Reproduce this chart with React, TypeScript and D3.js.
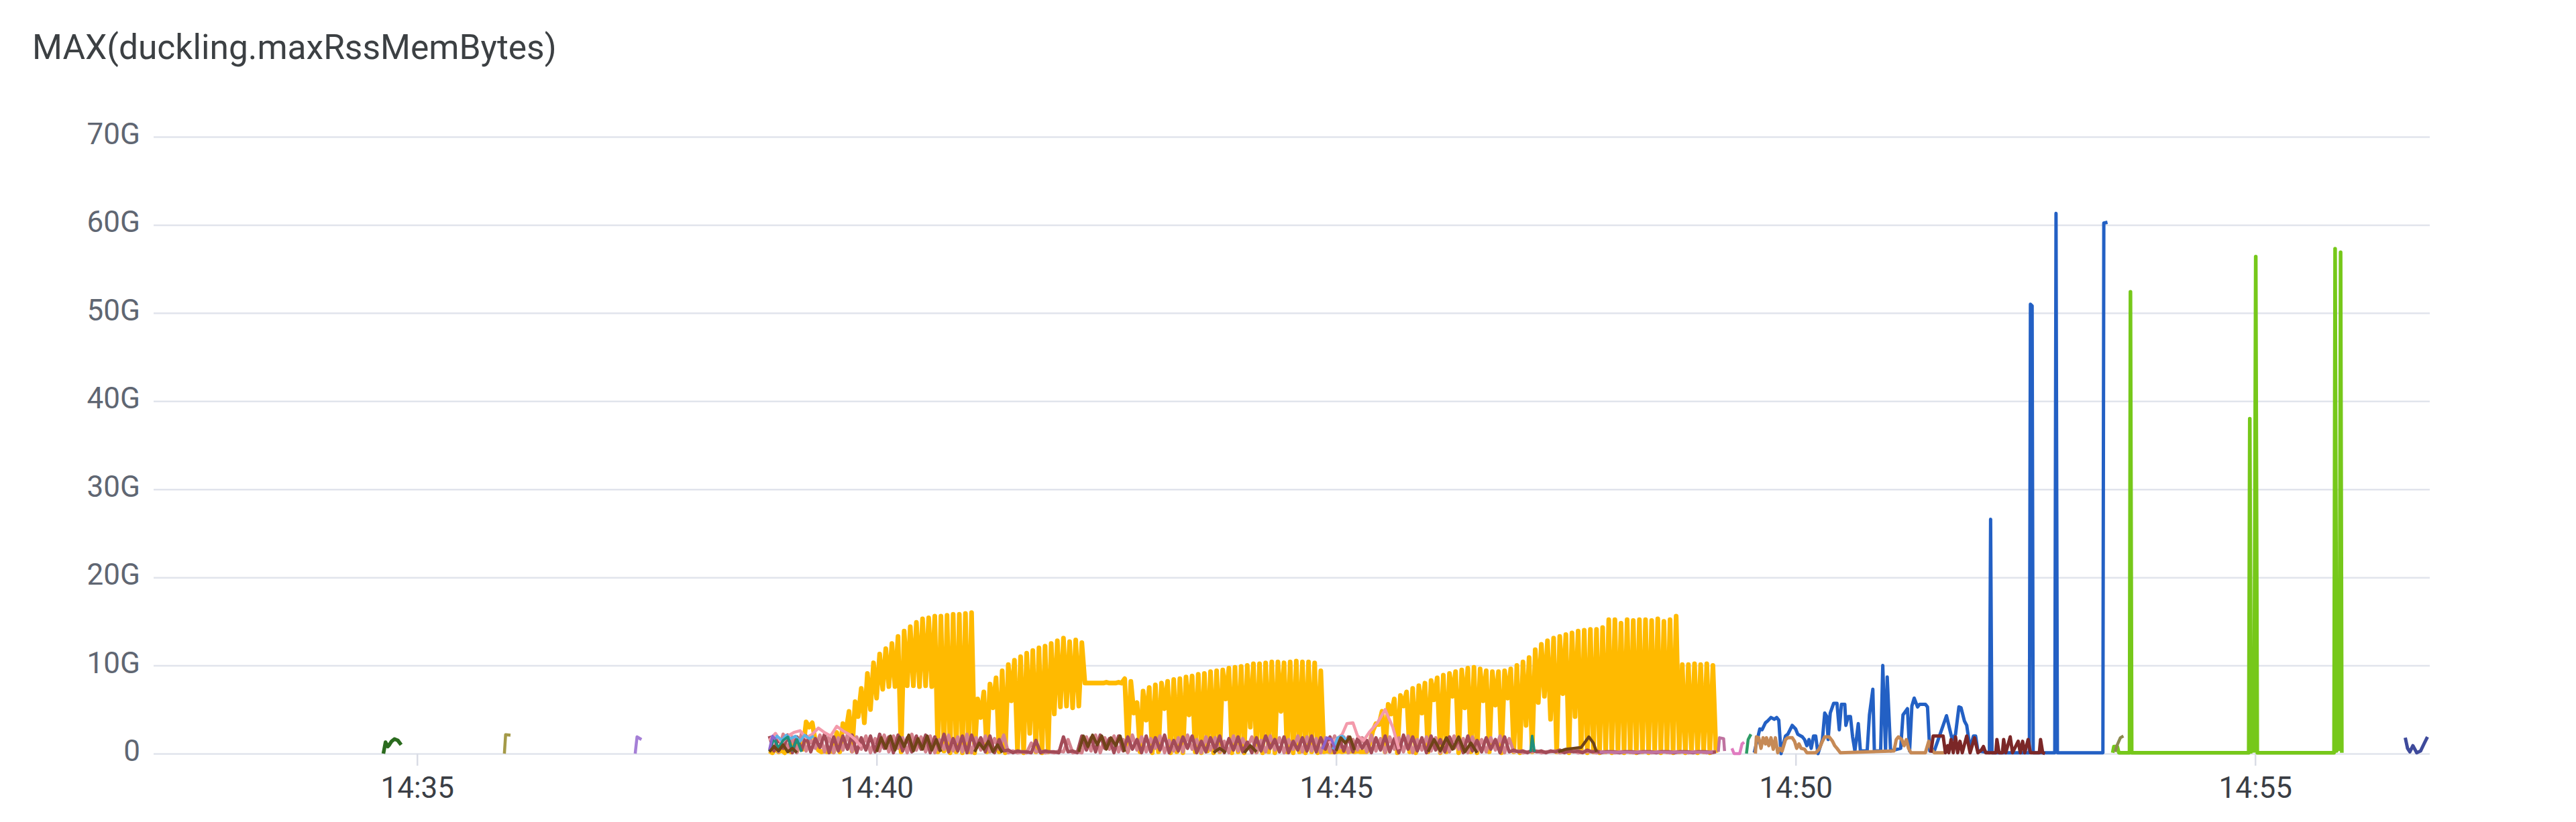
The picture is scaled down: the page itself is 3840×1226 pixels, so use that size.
import React, { useEffect, useRef } from "react";
import * as d3 from "d3";

// time values are seconds after 14:35:00, memory values are in G
const BASE = new Date(2024, 0, 15, 14, 35, 0).getTime();
const timeDomain = [-172, 1314];
const yTicks = [0, 10, 20, 30, 40, 50, 60, 70];

// yellow: a peak every 4 s from yellowStart, a trough 2 s after each peak
const yellowStart = 230;
const yellowPeaks = [
  0.3, 0.6, 0.4, 0.9, 1.2, 1.7, 3.6, 3.5, 0.4, 0.3, 0.3, 2.4,
  3.4, 4.8, 5.9, 7.4, 9.1, 10.3, 11.3, 11.9, 12.5, 13.3, 13.9, 14.4, 14.9, 15.3, 15.4, 15.6, 15.6, 15.7, 15.8, 15.8, 15.9, 16.0,
  6.2, 7.0, 7.9, 8.6, 9.4, 10.1, 10.6, 11.0, 11.4, 11.7, 12.0, 12.2, 12.5, 12.8, 13.1, 12.7, 12.9, 12.6,
  8.0, 8.0, 8.0, 8.1, 8.0, 8.1, 8.5, 8.2,
  5.8, 7.1, 7.5, 7.8, 8.0, 8.2, 8.4, 8.5, 8.7, 8.8, 9.0, 9.1, 9.3, 9.4, 9.5, 9.7, 9.8, 9.9, 10.0, 10.2, 10.2, 10.3, 10.4, 10.4, 10.3, 10.4, 10.5, 10.4, 10.4, 10.3, 9.4,
  0.3, 0.2, 0.3, 0.3, 0.3, 0.3, 0.2,
  1.2, 3.4, 4.8, 5.6, 6.2, 6.6, 7.0, 7.4, 7.7, 8.0, 8.3, 8.6, 8.9, 9.1, 9.3, 9.5, 9.7, 9.8, 9.6, 9.4, 9.3, 9.3, 9.4, 9.6, 10.0,
  10.4, 10.9, 11.8, 12.4, 12.8, 13.1, 13.3, 13.5, 13.7, 13.9, 14.0, 14.1, 14.1, 14.3, 15.2, 15.2, 14.8, 15.2, 15.1, 15.2, 15.2,
  15.1, 15.3, 15.0, 15.2, 15.6,
  10.1, 10.1, 10.2, 10.1, 10.2, 10.0,
];
const yellowTroughs = [
  0.1, 0.2, 0.1, 0.2, 0.3, 0.5, 3.0, 1.4, 0.2, 0.2, 0.2, 0.2,
  2.5, 0.3, 4.2, 3.5, 5.0, 6.3, 7.3, 7.6, 7.6, 0.2, 7.7, 7.7, 7.6, 7.7, 7.6, 0.2, 0.3, 0.1, 0.2, 0.1, 0.2, 0.1,
  4.1, 0.2, 5.2, 0.2, 0.1, 6.0, 0.2, 0.1, 2.3, 0.2, 0.1, 0.2, 4.5, 5.3, 5.4, 5.2, 5.4, 8.0,
  8.0, 8.0, 8.0, 8.0, 8.0, 8.0, 0.3, 4.6,
  0.2, 3.8, 0.1, 0.2, 5.1, 0.1, 0.2, 0.1, 4.4, 0.2, 0.1, 0.3, 0.1, 0.2, 6.2, 0.1, 0.2, 0.1, 3.0, 0.2, 0.1, 0.2, 0.1, 4.8, 0.2, 0.1, 0.2, 0.1, 0.2, 0.1, 0.2,
  0.2, 0.2, 0.2, 0.2, 0.2, 0.2, 0.2,
  2.6, 3.3, 0.2, 4.5, 0.1, 5.4, 0.2, 0.1, 4.6, 0.2, 6.1, 0.1, 0.2, 6.5, 0.1, 5.2, 0.2, 0.1, 6.0, 0.2, 5.5, 0.1, 6.3, 0.2, 0.1,
  3.2, 0.2, 5.8, 6.5, 3.9, 0.2, 6.8, 0.1, 4.2, 0.2, 0.1, 0.2, 0.1, 0.2, 0.1, 0.2, 0.1, 0.2, 0.1, 0.2, 0.1,
  0.2, 0.1, 0.2, 0.1, 0.2,
  0.1, 0.2, 0.1, 0.2, 0.1, 0.1,
];

// rose band: highs every 6 s from roseStart, lows 3 s after each high
const roseStart = 230;
const roseHighs = [
  2.0, 1.8, 2.1, 1.9, 2.0, 1.7, 2.2, 1.9, 2.0, 2.1, 1.8, 2.0, 2.2, 1.9, 2.1, 1.8, 2.0, 2.1, 1.9, 2.2, 1.7, 2.0, 2.1, 1.8, 2.0, 1.6,
  0.4, 0.3, 0.2, 1.5, 0.3, 0.2, 1.9, 0.3,
  2.0, 1.8, 2.1, 1.7, 2.0, 1.9, 1.6, 2.0, 1.8, 2.1, 1.5, 1.9, 2.0, 1.4, 1.8, 2.0, 1.7, 1.9, 1.3, 1.8, 2.0, 1.6, 1.9, 1.4,
  1.8, 2.0, 1.8, 1.9, 1.8, 1.9, 1.7, 1.5, 1.8, 2.0, 1.7, 2.1, 1.9, 1.8, 2.0, 1.6, 1.9, 1.7, 2.0, 1.5, 1.8, 1.6, 1.9,
  0.4, 0.3, 0.4, 0.3, 0.3, 0.4, 0.3, 0.3, 0.4, 0.3, 0.2, 0.2, 0.2, 0.2, 0.2, 0.2, 0.2, 0.2, 0.2, 0.2, 0.2, 0.2, 0.2,
];
const roseLows = [
  0.3, 0.6, 0.1, 0.4, 0.2, 0.7, 0.1, 0.3, 0.5, 0.1, 0.4, 0.2, 0.6, 0.1, 0.3, 0.2, 0.5, 0.1, 0.4, 0.2, 0.3, 0.1, 0.6, 0.2, 0.1, 0.3,
  0.1, 0.2, 0.1, 0.1, 0.2, 0.1, 0.2, 0.1,
  0.4, 0.2, 0.6, 0.1, 0.3, 0.5, 0.1, 0.2, 0.4, 0.1, 0.3, 0.6, 0.1, 0.2, 0.5, 0.1, 0.4, 0.2, 0.1, 0.3, 0.6, 0.2, 0.1, 0.4,
  0.3, 0.2, 0.5, 0.1, 0.3, 0.2, 0.6, 0.1, 0.4, 0.2, 0.1, 0.5, 0.3, 0.1, 0.4, 0.2, 0.6, 0.1, 0.3, 0.2, 0.5, 0.1, 0.2,
  0.2, 0.1, 0.2, 0.1, 0.2, 0.1, 0.2, 0.1, 0.2, 0.1, 0.2, 0.1, 0.2, 0.1, 0.2, 0.1, 0.2, 0.1, 0.2, 0.1, 0.2, 0.1,
];

// blush band: highs every 6 s from blushStart, lows 3 s after each high
const blushStart = 233;
const blushHighs = [
  1.7, 2.2, 1.9, 2.3, 1.6, 2.1, 2.0, 1.8, 2.2, 1.9, 2.0, 1.7, 2.1, 2.0, 1.8, 2.2, 1.9, 2.0, 1.6, 2.1, 1.9, 2.2, 1.8, 2.0, 1.7, 2.1,
  0.3, 0.2, 1.2, 0.3, 0.2, 0.3, 1.6, 0.2,
  1.9, 2.1, 1.8, 2.0, 1.6, 2.1, 1.9, 1.7, 2.0, 1.5, 1.8, 2.1, 1.6, 1.9, 1.8, 1.4, 2.0, 1.7, 1.9, 1.5, 2.0, 1.8, 1.6, 2.0,
  1.9, 1.7, 1.8, 2.0, 1.9, 1.6, 1.8, 2.1, 1.7, 1.9, 1.8, 2.0, 1.6, 1.9, 1.8, 1.5, 2.0, 1.7, 1.9, 1.6, 1.8, 2.0, 1.7,
  0.3, 0.2, 0.3, 0.2, 0.3, 0.2, 0.3, 0.2, 0.2, 0.2, 0.2, 0.2, 0.2, 0.2, 0.2, 0.2, 0.2, 0.2, 0.2, 0.2, 0.2, 0.2,
];
const blushLows = [
  0.2, 0.5, 0.1, 0.3, 0.6, 0.2, 0.1, 0.4, 0.2, 0.5, 0.1, 0.3, 0.2, 0.6, 0.1, 0.4, 0.2, 0.1, 0.5, 0.3, 0.2, 0.1, 0.4, 0.2, 0.5, 0.1,
  0.1, 0.1, 0.2, 0.1, 0.1, 0.2, 0.1, 0.1,
  0.3, 0.1, 0.5, 0.2, 0.1, 0.4, 0.2, 0.6, 0.1, 0.3, 0.2, 0.5, 0.1, 0.4, 0.2, 0.1, 0.3, 0.6, 0.1, 0.2, 0.4, 0.1, 0.5, 0.2,
  0.3, 0.1, 0.2, 0.6, 0.1, 0.4, 0.2, 0.3, 0.1, 0.5, 0.2, 0.1, 0.4, 0.3, 0.1, 0.2, 0.5, 0.1, 0.3, 0.2, 0.4, 0.1, 0.2,
  0.1, 0.2, 0.1, 0.2, 0.1, 0.2, 0.1, 0.2, 0.1, 0.2, 0.1, 0.2, 0.1, 0.2, 0.1, 0.2, 0.1, 0.2, 0.1, 0.2, 0.1, 0.2,
];

const brownT = [230, 233, 236, 239, 242, 245, 248, 270,
  300, 303, 306, 309, 312, 315, 318, 321, 324, 327, 330, 333, 336, 339, 342, 350,
  364, 367, 370, 373, 376, 379, 382, 400,
  432, 435, 438, 441, 444, 447, 450, 453, 456, 459, 462, 480,
  520, 524, 528, 535, 540, 544, 548, 580,
  600, 603, 606, 609, 612, 640,
  660, 664, 668, 672, 676, 680, 684, 688, 692, 720,
  745, 750, 755, 760, 765, 768, 770];
const brownV = [0.2, 0.8, 0.3, 1.0, 0.2, 0.6, 0.1, null,
  0.2, 1.8, 0.6, 2.0, 0.4, 1.9, 0.8, 2.1, 0.3, 1.7, 0.5, 2.0, 0.4, 1.6, 0.2, null,
  0.2, 1.2, 0.5, 1.4, 0.2, 1.0, 0.1, null,
  0.2, 2.0, 0.8, 2.1, 1.0, 2.0, 0.5, 1.8, 0.9, 2.0, 0.2, null,
  0.1, 0.6, 0.1, null, 0.1, 0.9, 0.2, null,
  0.3, 1.8, 1.2, 1.9, 0.4, null,
  0.2, 1.6, 0.3, 1.8, 0.5, 1.9, 0.2, 1.2, 0.1, null,
  0.2, 0.5, 0.6, 0.7, 1.9, 1.2, 0.2];

const pinkT = [230, 234, 238, 242, 246, 250, 254, 258, 262, 266, 270, 274, 278, 282, 286, 290, 300,
  595, 600, 604, 607, 611, 614, 618, 622, 627, 632, 637, 641];
const pinkV = [1.5, 2.3, 1.2, 2.0, 2.4, 2.6, 1.8, 2.2, 2.9, 2.4, 2.0, 3.1, 2.6, 2.2, 1.6, 0.8, null,
  1.2, 1.6, 2.2, 3.4, 3.5, 2.0, 1.5, 2.5, 3.5, 5.0, 3.0, 0.5];

const tealT = [230, 233, 236, 239, 242, 245, 248, 251, 260, 727, 728, 729.5];
const tealV = [0.3, 1.8, 0.6, 1.5, 1.9, 0.4, 1.6, 0.2, null, 0.2, 2.0, 0.2];

const skyT = [232, 235, 238, 241, 244, 247, 250, 253, 256, 259, 280, 598, 601, 604, 607];
const skyV = [1.2, 2.0, 1.5, 2.1, 1.7, 2.0, 1.4, 2.1, 1.7, 2.0, null, 0.5, 1.8, 2.0, 1.5];

const violetT = [230, 232, 234, 240, 591, 594, 597, 600];
const violetV = [0.4, 2.0, 1.6, null, 0.5, 1.8, 1.6, 0.3];

const mauveT = [772, 846, 848, 849.5, 850.3, 853, 853.6];
const mauveV = [0.15, 0.15, null, 0.2, 1.8, 1.7, 0.3];

const hotPinkT = [858.4, 859.8, 863.5, 865, 866.4];
const hotPinkV = [0.6, 0, 0, 1.1, 1.3];

const jadeT = [867.9, 869, 870.8];
const jadeV = [0, 1.6, 2.2];

const blueT = [873.0, 876.6, 878.1, 880.3, 881.7, 883.9, 886.1, 887.6, 889.0, 890.5, 891.2, 893.4, 894.9, 897.8,
  900.0, 901.4, 904.4, 905.8, 907.3, 908.7, 910.2, 911.7, 913.1, 914.6, 917.5, 919.0, 920.4, 921.2, 922.6,
  924.8, 927.0, 928.5, 929.9, 932.1, 932.8, 934.3, 935.8, 937.2, 938.7, 940.9, 942.3, 946.7, 948.2, 950.4,
  951.4, 955.5, 956.9, 958.7, 959.8, 962.0, 968.6, 970.1, 973.0, 974.4, 975.9, 977.4, 979.6, 981.0, 984.7,
  986.1, 987.6, 990.5, 998.5, 1000.0, 1002.2, 1004.4, 1006.6, 1008.0, 1010.2, 1011.7, 1013.9, 1016.1, 1017.5,
  1019.0, 1026.5, 1027.3, 1028.2, 1052.6, 1053.3, 1054.4, 1055.1, 1069.2, 1070.0, 1070.9, 1100.6, 1101.2, 1103.6];
const blueV = [0.1, 2.8, 2.7, 3.5, 3.7, 4.1, 3.9, 4.1, 3.8, 0.0, 0.6, 2.0, 2.2, 3.2,
  2.8, 2.2, 1.9, 1.6, 0.9, 1.6, 0.6, 2.0, 2.0, 0.0, 1.6, 4.6, 4.2, 1.6, 4.6,
  5.7, 5.7, 2.7, 5.6, 5.6, 3.2, 4.2, 4.2, 1.9, 0.3, 3.4, 0.3, 0.3, 4.4, 7.3,
  0.3, 0.3, 10.0, 0.3, 8.7, 0.3, 0.6, 4.4, 5.1, 0.3, 5.4, 6.3, 5.3, 5.6, 5.6,
  5.3, 0.3, 0.3, 4.3, 3.2, 1.6, 2.2, 5.3, 5.2, 3.7, 3.2, 0.6, 2.0, 2.0,
  0.3, 0.1, 26.6, 0.1, 0.1, 51.0, 50.8, 0.1, 0.1, 61.3, 0.1, 0.1, 60.2, 60.3];

const tanT = [873.7, 874.4, 875.9, 877.4, 878.8, 880.3, 881.0, 882.5, 883.9, 885.4, 886.8, 888.3, 889.8, 891.2,
  893.4, 894.9, 897.8, 899.3, 900.7, 902.2, 903.6, 905.8, 907.3, 913.1, 915.3, 917.5, 919.0, 921.9, 924.1,
  925.5, 927.0, 929.2, 964.2, 965.7, 967.1, 969.3, 970.8, 972.3, 973.7, 975.2, 984.7, 986.9, 988.3, 990.5, 997.1];
const tanV = [0, 1.9, 1.8, 0.6, 1.8, 1.1, 1.8, 0.9, 1.8, 0.5, 1.8, 0.1, 0.6, 0.3,
  1.6, 1.8, 1.8, 1.4, 0.6, 1.1, 0.6, 0.5, 0.1, 0.1, 0.5, 1.4, 1.9, 1.9, 1.4,
  0.9, 0.6, 0.1, 0.3, 1.6, 1.9, 1.6, 0.9, 1.6, 0.6, 0.1, 0.1, 1.4, 0.6, 0.1, 0.1];

const maroonT = [988.3, 989.8, 996.3, 997.8, 999.3, 1000.0, 1001.5, 1002.9, 1004.4, 1005.8, 1007.3, 1008.8,
  1011.7, 1013.9, 1016.8, 1019.0, 1021.2, 1022.6, 1024.1, 1030.7, 1031.4, 1032.8, 1035.0, 1035.8, 1037.2,
  1040.1, 1041.6, 1045.3, 1046.7, 1048.2, 1049.6, 1051.8, 1053.3, 1059.1, 1059.9, 1061.3, 1062.8];
const maroonV = [0.1, 2.0, 2.0, 0.1, 0.9, 0.1, 1.6, 0.1, 1.9, 0.1, 1.4, 0.1,
  2.0, 0.1, 1.8, 0.1, 0.4, 0.8, 0.1, 0.1, 1.6, 0.1, 0.1, 1.6, 0.1,
  1.9, 0.1, 1.4, 0.1, 1.4, 0.1, 1.6, 0.1, 0.1, 1.6, 0.1, 0.0];

const khakiT = [1108.5, 1110, 1112, 1114];
const khakiV = [0.2, 1.0, 1.8, 2.0];

const limeT = [1107, 1107.8, 1110, 1111, 1118, 1118.6, 1119.4, 1195.8, 1196.5, 1197.4, 1198.4, 1199.3, 1200.4,
  1201.4, 1251.5, 1252.2, 1253.2, 1254, 1255, 1255.8, 1256.6];
const limeV = [0.1, 0.8, 0.8, 0.1, 0.1, 52.4, 0.1, 0.1, 38.0, 0.2, 9.8, 0.3, 56.4,
  0.1, 0.1, 57.3, 0.3, 11.3, 0.5, 56.9, 0.1];

const navyT = [1298, 1299.5, 1301, 1303, 1305.5, 1308, 1310.5, 1312.5];
const navyV = [1.8, 0.6, 0.2, 0.9, 0.1, 0.3, 1.2, 1.9];

const forestT = [-22, -20.6, -19.1, -18.1, -16.6, -14.8, -12.6, -10.4];
const forestV = [0, 1.3, 0.8, 1.0, 1.4, 1.65, 1.5, 1.0];
const oliveT = [57, 57.8, 61];
const oliveV = [0, 2.15, 2.1];
const lilacT = [142.4, 143.6, 146.5];
const lilacV = [0, 1.9, 1.6];

interface Pt {
  t: number;
  v: number | null;
}

const pairs = (ts: number[], vs: (number | null)[]): Pt[] =>
  ts.map((t, i) => ({ t, v: vs[i] }));

const interleave = (start: number, step: number, hi: number[], lo: number[]): Pt[] => {
  const out: Pt[] = [];
  hi.forEach((h, i) => {
    out.push({ t: start + i * step, v: h });
    if (i < lo.length) out.push({ t: start + i * step + step / 2, v: lo[i] });
  });
  return out;
};

const Chart: React.FC = () => {
  const svgRef = useRef<SVGSVGElement | null>(null);
  const width = 3840;
  const height = 1226;

  useEffect(() => {
    document.body.style.margin = "0";
    const svg = d3.select(svgRef.current);
    svg.selectAll("*").remove();

    const left = 229;
    const right = 3622;
    const top = 204;
    const bottom = 1124;

    const toDate = (t: number) => new Date(BASE + t * 1000);

    const x = d3
      .scaleTime()
      .domain([toDate(timeDomain[0]), toDate(timeDomain[1])])
      .range([left, right]);
    const y = d3.scaleLinear().domain([0, 70]).range([bottom, top]);

    const font = "Roboto, 'Noto Sans', sans-serif";

    // title
    svg
      .append("text")
      .attr("x", 48)
      .attr("y", 88)
      .attr("font-family", font)
      .attr("font-size", 51.5)
      .attr("fill", "#3c4043")
      .text("MAX(duckling.maxRssMemBytes)");

    // y axis + grid
    const yAxis = svg
      .append("g")
      .attr("transform", `translate(${left},0)`)
      .call(
        d3
          .axisLeft(y)
          .tickValues(yTicks)
          .tickSize(-(right - left))
          .tickPadding(20)
          .tickFormat((d) => (+d === 0 ? "0" : `${d}G`))
      );
    yAxis.select(".domain").remove();
    yAxis.selectAll(".tick line").attr("stroke", "#e1e4ec").attr("stroke-width", 2.5);
    yAxis
      .selectAll(".tick text")
      .attr("font-family", font)
      .attr("font-size", 44)
      .attr("fill", "#5f6672")
      .attr("dy", "0.24em");

    // x axis
    const xAxis = svg
      .append("g")
      .attr("transform", `translate(0,${bottom})`)
      .call(
        d3
          .axisBottom(x)
          .ticks(d3.timeMinute.every(5))
          .tickSize(18)
          .tickPadding(17)
          .tickFormat((d) => d3.timeFormat("%H:%M")(d as Date))
      );
    xAxis.select(".domain").remove();
    xAxis.selectAll(".tick line").attr("stroke", "#d9dce5").attr("stroke-width", 2.5);
    xAxis
      .selectAll(".tick text")
      .attr("font-family", font)
      .attr("font-size", 44)
      .attr("fill", "#3a3e45");

    const line = d3
      .line<Pt>()
      .defined((d) => d.v !== null)
      .x((d) => x(toDate(d.t)))
      .y((d) => y(d.v as number));

    // yellow first so the low band stays visible along the bottom
    const series: { pts: Pt[]; color: string; w: number }[] = [
      { pts: interleave(yellowStart, 4, yellowPeaks, yellowTroughs), color: "#ffba00", w: 7 },
      { pts: interleave(blushStart, 6, blushHighs, blushLows), color: "#d4838e", w: 5 },
      { pts: interleave(roseStart, 6, roseHighs, roseLows), color: "#a34b58", w: 5 },
      { pts: pairs(pinkT, pinkV), color: "#f39aab", w: 4.5 },
      { pts: pairs(skyT, skyV), color: "#5cb3e7", w: 4 },
      { pts: pairs(tealT, tealV), color: "#1f8f7b", w: 4 },
      { pts: pairs(violetT, violetV), color: "#8d63cc", w: 4 },
      { pts: pairs(brownT, brownV), color: "#6f4318", w: 4.5 },
      { pts: pairs(mauveT, mauveV), color: "#bf73a0", w: 4.5 },
      { pts: pairs(hotPinkT, hotPinkV), color: "#e07cc0", w: 4.5 },
      { pts: pairs(jadeT, jadeV), color: "#2e9c66", w: 4.5 },
      { pts: pairs(blueT, blueV), color: "#2360c4", w: 5 },
      { pts: pairs(tanT, tanV), color: "#c68a56", w: 5 },
      { pts: pairs(maroonT, maroonV), color: "#7b2727", w: 5 },
      { pts: pairs(limeT, limeV), color: "#76c81a", w: 5.5 },
      { pts: pairs(khakiT, khakiV), color: "#8b8a4f", w: 4.5 },
      { pts: pairs(navyT, navyV), color: "#3e4a9b", w: 5 },
      { pts: pairs(forestT, forestV), color: "#2b6b1f", w: 5.5 },
      { pts: pairs(oliveT, oliveV), color: "#a49a48", w: 4.5 },
      { pts: pairs(lilacT, lilacV), color: "#a57fd6", w: 4.5 },
    ];

    const plot = svg.append("g");
    series.forEach((s) => {
      plot
        .append("path")
        .datum(s.pts)
        .attr("fill", "none")
        .attr("stroke", s.color)
        .attr("stroke-width", s.w)
        .attr("stroke-linejoin", "round")
        .attr("d", line);
    });
  }, []);

  return (
    <svg
      ref={svgRef}
      width={width}
      height={height}
      style={{ display: "block", background: "#fff" }}
    ></svg>
  );
};

export default function App() {
  return <Chart />;
}
